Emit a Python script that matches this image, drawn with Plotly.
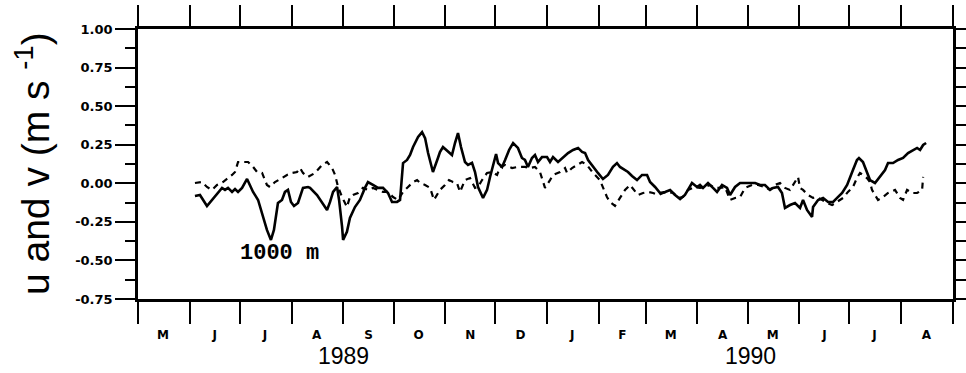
import pandas as pd
import plotly.graph_objects as go

# ---- data (days since 1989-05-01, speed in m/s) ----
start_date = "1989-05-01"
day_u = [34.1, 37.1, 41.3, 44.3, 47.3, 50.3, 52.1, 53.9, 56.3, 58.1, 59.9, 62.3, 65.3, 67.1, 68.9, 71.9,
         74.9, 77.2, 79.6, 81.4, 83.8, 86.2, 88.0, 89.8, 91.6, 93.4, 95.8, 98.8, 101.8, 103.0, 107.2, 110.2,
         113.2, 115.0, 116.8, 119.2, 120.4, 122.2, 122.8, 125.1, 126.9, 129.9, 132.9, 135.9, 137.7, 140.7,
         143.7, 146.7, 149.7, 152.1, 155.1, 156.9, 158.1, 158.7, 161.1, 162.9, 164.7, 167.7, 170.1, 171.9,
         173.7, 176.6, 179.6, 180.8, 182.6, 185.6, 188.0, 189.8, 191.6, 193.4, 195.8, 197.6, 200.0, 201.8,
         203.6, 206.6, 209.0, 210.8, 212.6, 214.4, 215.6, 218.0, 219.8, 222.2, 224.6, 227.5, 229.9, 231.7,
         233.5, 235.9, 237.7, 239.5, 241.9, 244.9, 246.7, 248.5, 251.5, 254.5, 257.5, 260.5, 263.5, 265.9,
         267.7, 269.5, 272.5, 275.4, 278.4, 281.4, 284.4, 286.8, 288.6, 291.6, 293.4, 295.8, 298.8, 301.8,
         304.8, 306.6, 309.6, 312.6, 315.6, 318.6, 321.6, 324.6, 327.5, 329.3, 331.7, 334.7, 336.5, 338.3,
         341.3, 344.3, 346.7, 349.7, 352.7, 354.5, 357.5, 360.5, 363.5, 366.5, 369.5, 372.5, 375.4, 378.4,
         380.2, 383.2, 385.6, 387.4, 390.4, 393.4, 396.4, 398.2, 400.6, 403.6, 404.2, 407.2, 410.2, 413.2,
         416.2, 418.6, 421.6, 424.6, 426.3, 428.1, 430.5, 431.7, 434.1, 436.5, 438.3, 441.3, 444.3, 447.3,
         449.1, 452.1, 455.1, 458.1, 461.1, 464.1, 466.5, 468.3, 470.1, 471.9]
u = [-0.082, -0.076, -0.147, -0.108, -0.063, -0.030, -0.043, -0.030, -0.056, -0.037, -0.056, -0.030, 0.028,
     -0.011, -0.056, -0.108, -0.218, -0.302, -0.367, -0.302, -0.128, -0.108, -0.056, -0.043, -0.121, -0.147,
     -0.128, -0.030, -0.024, -0.030, -0.076, -0.128, -0.173, -0.121, -0.056, -0.024, -0.108, -0.283, -0.367,
     -0.315, -0.225, -0.154, -0.108, -0.030, 0.008, -0.011, -0.030, -0.030, -0.063, -0.121, -0.121, -0.108,
     0.041, 0.131, 0.151, 0.183, 0.235, 0.300, 0.332, 0.293, 0.196, 0.073, 0.164, 0.203, 0.235, 0.203,
     0.183, 0.261, 0.325, 0.235, 0.138, 0.119, 0.132, 0.073, -0.024, -0.095, -0.043, 0.041, 0.119, 0.190,
     0.131, 0.106, 0.151, 0.216, 0.261, 0.229, 0.164, 0.151, 0.106, 0.164, 0.183, 0.138, 0.170, 0.170,
     0.138, 0.170, 0.138, 0.170, 0.196, 0.216, 0.229, 0.203, 0.196, 0.151, 0.106, 0.067, 0.028, 0.054,
     0.106, 0.131, 0.106, 0.086, 0.073, 0.047, 0.021, 0.054, 0.054, 0.008, -0.024, -0.063, -0.056, -0.043,
     -0.076, -0.102, -0.076, -0.043, 0.002, -0.024, -0.011, -0.030, 0.002, -0.030, -0.056, -0.011, -0.030,
     -0.076, -0.024, 0.002, 0.002, 0.002, 0.002, -0.011, -0.011, -0.043, -0.030, -0.024, -0.063, -0.160,
     -0.141, -0.128, -0.160, -0.108, -0.173, -0.218, -0.154, -0.108, -0.095, -0.121, -0.121, -0.095, -0.063,
     -0.011, 0.041, 0.086, 0.151, 0.164, 0.138, 0.073, 0.021, 0.002, 0.041, 0.086, 0.131, 0.131, 0.151,
     0.164, 0.196, 0.216, 0.229, 0.216, 0.248, 0.261]

day_v = [34.1, 38.3, 41.3, 44.3, 47.3, 50.9, 56.3, 58.1, 59.9, 62.9, 65.9, 68.9, 71.3, 74.3, 77.2, 79.0,
         82.0, 86.2, 89.2, 92.2, 95.2, 97.0, 98.8, 101.8, 106.0, 110.2, 113.2, 116.2, 118.0, 119.8, 122.2,
         125.1, 126.9, 128.7, 131.7, 134.7, 137.7, 140.7, 143.7, 146.7, 149.7, 152.7, 155.7, 158.7, 161.7,
         164.7, 167.1, 168.9, 171.9, 174.9, 177.2, 180.8, 183.8, 186.2, 188.6, 191.0, 192.8, 195.8, 198.8,
         201.8, 203.6, 206.0, 209.0, 212.0, 215.0, 216.8, 219.8, 224.0, 227.5, 231.7, 234.7, 237.7, 240.7,
         241.9, 243.7, 246.7, 248.5, 252.7, 255.7, 256.9, 259.9, 262.9, 265.9, 268.9, 272.5, 276.6, 278.4,
         280.8, 282.6, 285.6, 288.6, 291.6, 294.6, 297.6, 299.4, 302.4, 305.4, 308.4, 311.4, 314.4, 317.4,
         320.4, 323.4, 326.3, 329.3, 333.5, 336.5, 339.5, 342.5, 345.5, 348.5, 351.5, 354.5, 357.5, 360.5,
         363.5, 367.7, 371.3, 375.4, 378.4, 381.4, 384.4, 387.4, 390.4, 392.2, 395.2, 396.4, 398.2, 401.2,
         404.2, 406.6, 409.6, 412.6, 415.6, 418.6, 422.2, 425.1, 428.1, 430.5, 432.3, 434.1, 436.5, 438.3,
         439.5, 441.3, 443.1, 446.1, 449.1, 453.3, 456.3, 458.1, 460.5, 463.5, 466.5, 469.5, 470.1]
v = [0.002, 0.008, -0.024, -0.043, -0.011, 0.008, 0.054, 0.073, 0.138, 0.138, 0.138, 0.106, 0.073, 0.067,
     -0.011, -0.024, 0.008, 0.034, 0.054, 0.067, 0.073, 0.099, 0.067, 0.041, 0.067, 0.118, 0.138, 0.099,
     0.054, -0.024, -0.089, -0.154, -0.089, -0.076, -0.063, -0.030, -0.043, -0.030, -0.043, -0.056, -0.056,
     -0.089, -0.108, -0.056, -0.024, 0.008, 0.021, 0.002, -0.011, -0.030, -0.108, -0.043, -0.011, 0.021,
     0.008, 0.002, -0.056, 0.021, 0.034, -0.030, -0.024, 0.021, 0.067, 0.073, 0.054, 0.106, 0.118, 0.099,
     0.106, 0.106, 0.099, 0.106, 0.073, 0.034, -0.030, 0.021, 0.054, 0.073, 0.099, 0.067, 0.099, 0.118,
     0.138, 0.118, 0.067, 0.021, -0.030, -0.089, -0.121, -0.147, -0.095, -0.043, -0.011, -0.056, -0.076,
     -0.063, -0.056, -0.063, -0.076, -0.063, -0.056, -0.063, -0.095, -0.089, -0.043, -0.024, -0.030, -0.024,
     -0.011, -0.030, -0.030, -0.024, -0.108, -0.095, -0.089, -0.030, -0.011, -0.011, -0.024, -0.043, -0.011,
     0.002, -0.030, -0.043, -0.011, 0.041, -0.030, -0.043, -0.076, -0.095, -0.089, -0.108, -0.128, -0.141,
     -0.121, -0.095, -0.056, -0.024, 0.034, 0.067, 0.054, 0.034, 0.008, -0.043, -0.076, -0.108, -0.089,
     -0.063, -0.043, -0.095, -0.108, -0.043, -0.063, -0.063, -0.043, 0.041]

month_starts = ["1989-05-01", "1989-06-01", "1989-07-01", "1989-08-01", "1989-09-01", "1989-10-01",
                "1989-11-01", "1989-12-01", "1990-01-01", "1990-02-01", "1990-03-01", "1990-04-01",
                "1990-05-01", "1990-06-01", "1990-07-01", "1990-08-01", "1990-09-01"]
month_mid = ["1989-05-16", "1989-06-16", "1989-07-16", "1989-08-16", "1989-09-16", "1989-10-16",
             "1989-11-16", "1989-12-16", "1990-01-16", "1990-02-15", "1990-03-16", "1990-04-16",
             "1990-05-16", "1990-06-16", "1990-07-16", "1990-08-16"]
month_labels = ["M", "J", "J", "A", "S", "O", "N", "D", "J", "F", "M", "A", "M", "J", "J", "A"]
y_ticks = [-0.75, -0.5, -0.25, 0.0, 0.25, 0.5, 0.75, 1.0]
y_ticktext = ["-0.75", "-0.50", "-0.25", "0.00", "0.25", "0.50", "0.75", "1.00"]
y_minor = [-0.75 + 0.125 * i for i in range(15)]
years = ["1989", "1990"]
year_pos = ["1989-09-01", "1990-05-03"]

base = pd.Timestamp(start_date)
x_u = [base + pd.Timedelta(days=d) for d in day_u]
x_v = [base + pd.Timedelta(days=d) for d in day_v]

fig = go.Figure()
fig.add_trace(go.Scatter(x=x_v, y=v, mode="lines", name="v",
                         line=dict(color="black", width=2.2, dash="6px,5px")))
fig.add_trace(go.Scatter(x=x_u, y=u, mode="lines", name="u",
                         line=dict(color="black", width=2.6)))
# invisible trace to anchor overlay axes (top / right)
fig.add_trace(go.Scatter(x=[month_starts[0]], y=[0], xaxis="x2", yaxis="y2",
                         mode="markers", marker=dict(opacity=0), showlegend=False, hoverinfo="skip"))

xr = [month_starts[0], month_starts[-1]]
fig.update_layout(
    width=966, height=373,
    margin=dict(l=138, r=13, t=29, b=74, autoexpand=False),
    paper_bgcolor="white", plot_bgcolor="white",
    showlegend=False,
    xaxis=dict(type="date", range=xr, showgrid=False, zeroline=False, automargin=False,
               showline=True, linecolor="black", linewidth=2.5,
               tickmode="array", tickvals=month_mid, ticktext=month_labels,
               ticks="outside", ticklen=22, tickcolor="rgba(0,0,0,0)", tickwidth=1,
               ticklabelstandoff=1,
               tickfont=dict(family="DejaVu Sans", size=12, color="black", weight="bold"),
               minor=dict(tickmode="array", tickvals=month_starts, ticks="outside",
                          ticklen=22, tickcolor="black", tickwidth=2, showgrid=False)),
    xaxis2=dict(type="date", range=xr, overlaying="x", side="top", matches="x", automargin=False,
                showgrid=False, zeroline=False, showline=True, linecolor="black", linewidth=2.5,
                tickmode="array", tickvals=month_starts, ticks="outside", ticklen=21,
                tickcolor="black", tickwidth=2, showticklabels=False),
    yaxis=dict(range=[-0.75, 1.0], showgrid=False, zeroline=False, automargin=False,
               showline=True, linecolor="black", linewidth=2.5,
               tickmode="array", tickvals=y_ticks, ticktext=y_ticktext,
               ticks="outside", ticklen=20, tickcolor="black", tickwidth=2,
               tickfont=dict(family="DejaVu Sans", size=13, color="black", weight="bold"),
               minor=dict(tickmode="array", tickvals=y_minor, ticks="outside", ticklen=10,
                          tickcolor="black", tickwidth=2, showgrid=False)),
    yaxis2=dict(range=[-0.75, 1.0], overlaying="y", side="right", matches="y", automargin=False,
                showgrid=False, zeroline=False, showline=True, linecolor="black", linewidth=2.5,
                tickmode="array", tickvals=y_minor, ticks="outside", ticklen=13,
                tickcolor="black", tickwidth=2, showticklabels=False),
)

annotations = [
    dict(text="u and v (m s <sup>-1</sup>)", xref="paper", yref="paper", x=-0.130, y=0.50,
         textangle=-90, showarrow=False, xanchor="center", yanchor="middle",
         font=dict(family="Liberation Sans", size=39, color="black")),
    dict(text="1000 m", xref="x", yref="y", x=base + pd.Timedelta(days=85), y=-0.452,
         showarrow=False, xanchor="center", yanchor="middle",
         font=dict(family="Liberation Mono", size=22, color="black", weight="bold")),
]
for yr, pos in zip(years, year_pos):
    annotations.append(dict(text=yr, xref="x", yref="paper", x=pos, y=-0.212,
                            showarrow=False, xanchor="center", yanchor="middle",
                            font=dict(family="Liberation Sans", size=23, color="black")))
fig.update_layout(annotations=annotations)

fig.write_html("out.html", config={"displayModeBar": False},
               post_script="document.body.style.margin='0';")
